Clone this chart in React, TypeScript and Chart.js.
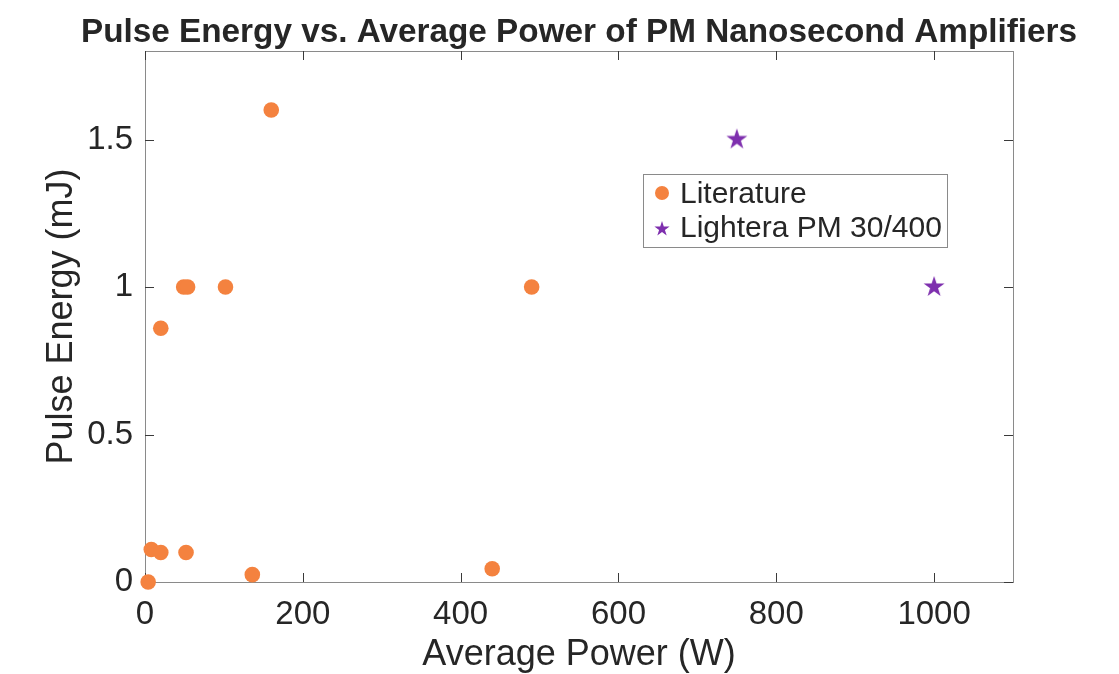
import React, { useEffect, useRef } from 'react';
import { Chart, registerables } from 'chart.js';

Chart.register(...registerables);

const chartTitle = 'Pulse Energy vs. Average Power of PM Nanosecond Amplifiers';
const xAxisTitle = 'Average Power (W)';
const yAxisTitle = 'Pulse Energy (mJ)';
const seriesNames = ['Literature', 'Lightera PM 30/400'];

const xTicks = [0, 200, 400, 600, 800, 1000];
const yTicks = [0, 0.5, 1, 1.5];
const xRange = [0, 1100];
const yRange = [0, 1.8];

const literatureX = [4, 8, 20, 52, 136, 20, 49, 54, 102, 440, 490, 160];
const literatureY = [0, 0.11, 0.1, 0.1, 0.025, 0.86, 1, 1, 1, 0.045, 1, 1.6];

const lighteraX = [750, 1000];
const lighteraY = [1.5, 1];

const ORANGE = '#F4823F';
const PURPLE = '#7E2FAE';
const TEXT = '#262626';
const AXIS = '#8a8a8a';
const TICK = '#3a3a3a';
const FONT = '"Liberation Sans", Arial, Helvetica, sans-serif';

function pentagramPath(ctx: CanvasRenderingContext2D, cx: number, cy: number, R: number) {
  const r = R * 0.382;
  ctx.beginPath();
  for (let i = 0; i < 10; i++) {
    const rad = i % 2 === 0 ? R : r;
    const a = -Math.PI / 2 + (i * Math.PI) / 5;
    const x = cx + rad * Math.cos(a);
    const y = cy + rad * Math.sin(a);
    if (i === 0) ctx.moveTo(x, y);
    else ctx.lineTo(x, y);
  }
  ctx.closePath();
}

function makeStar(R: number, color: string) {
  const c = document.createElement('canvas');
  const s = Math.ceil(R * 2 + 2);
  c.width = s;
  c.height = s;
  const ctx = c.getContext('2d')!;
  ctx.fillStyle = color;
  pentagramPath(ctx, s / 2, s / 2, R);
  ctx.fill();
  return c;
}

const decor = {
  id: 'matlabDecor',
  beforeDatasetsDraw(chart: any) {
    const { ctx, chartArea } = chart;
    const { left, right, top, bottom } = chartArea;
    const xs = chart.scales.x;
    const ys = chart.scales.y;
    ctx.save();
    ctx.lineWidth = 1;
    ctx.strokeStyle = AXIS;
    ctx.strokeRect(Math.round(left) + 0.5, Math.round(top) + 0.5, Math.round(right - left), Math.round(bottom - top));
    ctx.strokeStyle = TICK;
    const tl = 9;
    ctx.beginPath();
    xTicks.forEach((v) => {
      const px = Math.round(xs.getPixelForValue(v)) + 0.5;
      ctx.moveTo(px, bottom);
      ctx.lineTo(px, bottom - tl);
      ctx.moveTo(px, top);
      ctx.lineTo(px, top + tl);
    });
    yTicks.forEach((v) => {
      const py = Math.round(ys.getPixelForValue(v)) + 0.5;
      ctx.moveTo(left, py);
      ctx.lineTo(left + tl, py);
      ctx.moveTo(right, py);
      ctx.lineTo(right - tl, py);
    });
    ctx.stroke();
    ctx.restore();
  },
  afterDraw(chart: any) {
    const { ctx, chartArea } = chart;
    const { left, right, top, bottom } = chartArea;
    const cx = (left + right) / 2;
    const cy = (top + bottom) / 2;
    ctx.save();
    ctx.fillStyle = TEXT;
    ctx.textAlign = 'center';
    ctx.textBaseline = 'alphabetic';
    ctx.font = `bold 33.3px ${FONT}`;
    ctx.fillText(chartTitle, cx, 42);
    ctx.font = `36px ${FONT}`;
    ctx.fillText(xAxisTitle, cx, 665);
    ctx.save();
    ctx.translate(72, cy);
    ctx.rotate(-Math.PI / 2);
    ctx.fillText(yAxisTitle, 0, 0);
    ctx.restore();

    // legend
    const lx = 643, ly = 174, lw = 304, lh = 73;
    ctx.fillStyle = '#ffffff';
    ctx.fillRect(lx, ly, lw, lh);
    ctx.strokeStyle = AXIS;
    ctx.lineWidth = 1;
    ctx.strokeRect(lx + 0.5, ly + 0.5, lw, lh);
    ctx.fillStyle = ORANGE;
    ctx.beginPath();
    ctx.arc(662, 193, 7, 0, Math.PI * 2);
    ctx.fill();
    ctx.fillStyle = PURPLE;
    pentagramPath(ctx, 662, 229, 8);
    ctx.fill();
    ctx.fillStyle = TEXT;
    ctx.textAlign = 'left';
    ctx.font = `30px ${FONT}`;
    ctx.fillText(seriesNames[0], 680, 203);
    ctx.fillText(seriesNames[1], 680, 237);
    ctx.restore();
  },
};

export default function App() {
  const ref = useRef<HTMLCanvasElement>(null);
  useEffect(() => {
    const canvas = ref.current!;
    const star = makeStar(11, PURPLE);
    const chart = new Chart(canvas, {
      type: 'scatter',
      data: {
        datasets: [
          {
            label: seriesNames[0],
            data: literatureX.map((x, i) => ({ x, y: literatureY[i] })),
            backgroundColor: ORANGE,
            borderColor: ORANGE,
            pointRadius: 7.8,
            pointBorderWidth: 0,
            pointHoverRadius: 7.8,
            clip: false as any,
          },
          {
            label: seriesNames[1],
            data: lighteraX.map((x, i) => ({ x, y: lighteraY[i] })),
            pointStyle: star as any,
            backgroundColor: PURPLE,
            borderColor: PURPLE,
            pointRadius: 11,
            clip: false as any,
          },
        ],
      },
      options: {
        responsive: false,
        animation: false,
        devicePixelRatio: 1,
        layout: { padding: { top: 51, right: 106, left: 0, bottom: 0 } },
        plugins: {
          legend: { display: false },
          title: { display: false },
          tooltip: { enabled: false },
        },
        scales: {
          x: {
            type: 'linear',
            min: xRange[0],
            max: xRange[1],
            grid: { display: false, drawTicks: false },
            border: { display: false },
            afterBuildTicks: (s: any) => {
              s.ticks = xTicks.map((v) => ({ value: v }));
            },
            afterFit: (s: any) => {
              s.height = 92;
            },
            ticks: {
              padding: 13,
              maxRotation: 0,
              color: TEXT,
              font: { family: FONT, size: 33 },
              callback: (v: any) => String(v),
            },
          },
          y: {
            type: 'linear',
            min: yRange[0],
            max: yRange[1],
            grid: { display: false, drawTicks: false },
            border: { display: false },
            afterBuildTicks: (s: any) => {
              s.ticks = yTicks.map((v) => ({ value: v }));
            },
            afterFit: (s: any) => {
              s.width = 145;
            },
            ticks: {
              padding: 12,
              color: TEXT,
              font: { family: FONT, size: 33 },
              callback: (v: any) => String(v),
            },
          },
        },
      },
      plugins: [decor],
    });
    return () => chart.destroy();
  }, []);
  return (
    <div style={{ position: 'absolute', left: 0, top: 0, width: 1119, height: 674, background: '#fff' }}>
      <canvas ref={ref} width={1119} height={674} style={{ display: 'block' }} />
    </div>
  );
}
